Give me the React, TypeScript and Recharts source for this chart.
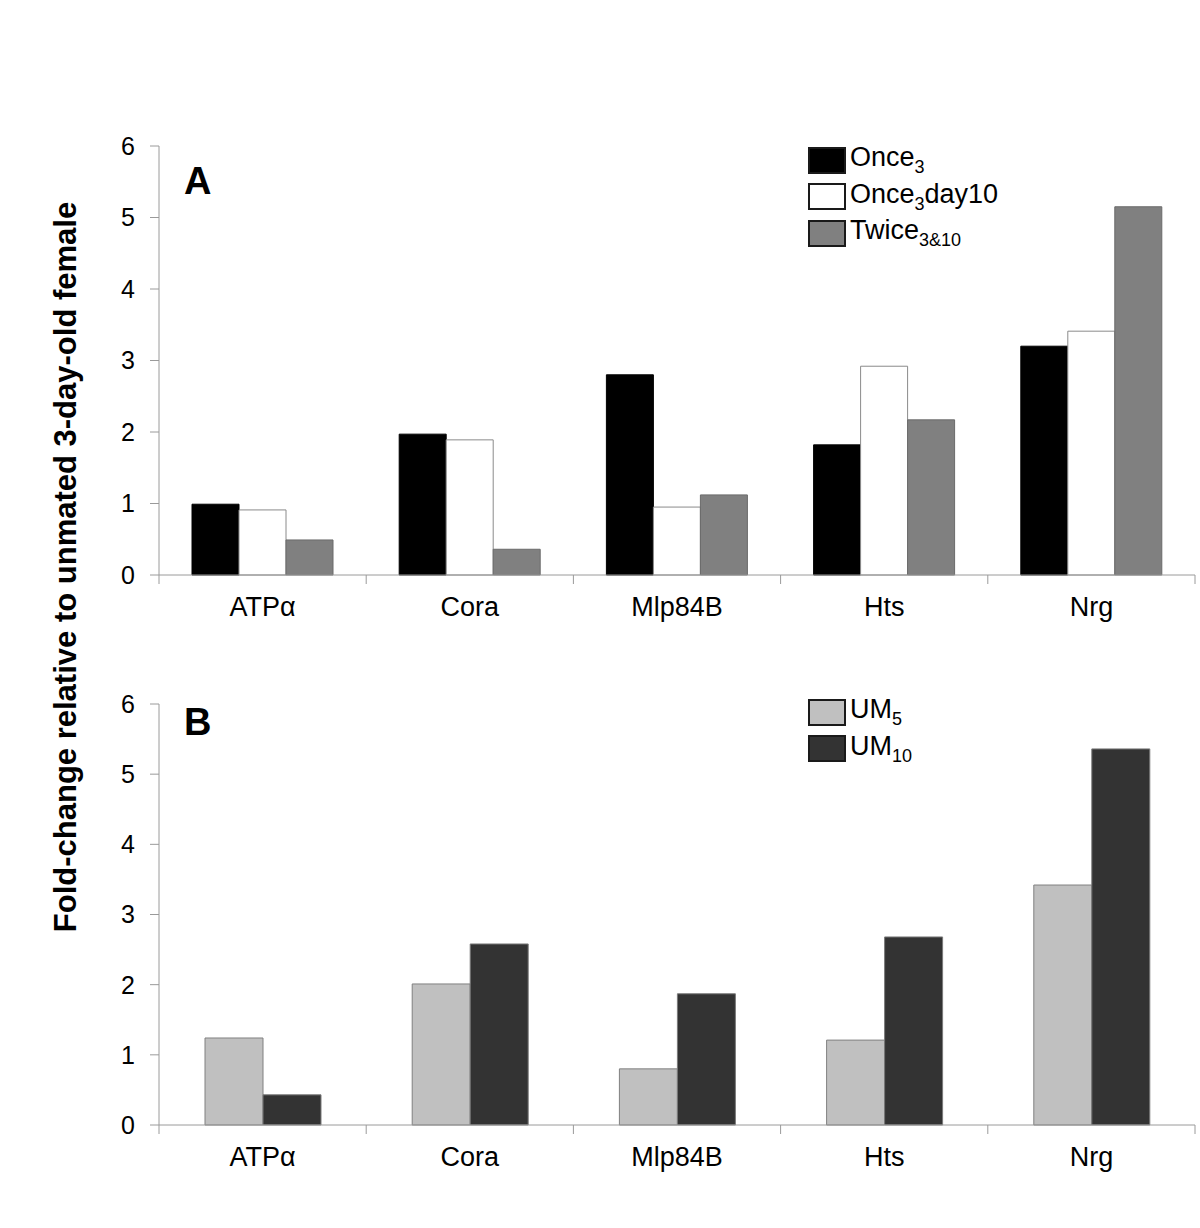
import { BarChart, Bar, XAxis, YAxis, Legend } from 'recharts'

// genes on the x axis, shared by both panels
const genes = ['ATPα', 'Cora', 'Mlp84B', 'Hts', 'Nrg']
const yTicks = [0, 1, 2, 3, 4, 5, 6]
const edgeTicks = [0, 1, 2, 3, 4, 5]

// panel A
const once3 = [0.99, 1.97, 2.8, 1.82, 3.2]
const once3day10 = [0.91, 1.89, 0.95, 2.92, 3.41]
const twice310 = [0.49, 0.36, 1.12, 2.17, 5.15]

// panel B
const um5 = [1.24, 2.01, 0.8, 1.21, 3.42]
const um10 = [0.43, 2.58, 1.87, 2.68, 5.36]

const namesA = [
  { key: 'once3', base: 'Once', sub: '3', tail: '' },
  { key: 'once3day10', base: 'Once', sub: '3', tail: 'day10' },
  { key: 'twice310', base: 'Twice', sub: '3&10', tail: '' },
]
const namesB = [
  { key: 'um5', base: 'UM', sub: '5', tail: '' },
  { key: 'um10', base: 'UM', sub: '10', tail: '' },
]

const dataA = genes.map((g, i) => ({ gene: g, once3: once3[i], once3day10: once3day10[i], twice310: twice310[i] }))
const dataB = genes.map((g, i) => ({ gene: g, um5: um5[i], um10: um10[i] }))

const FONT = '"Liberation Sans", Arial, sans-serif'
const AXIS = '#9a9a9a'

const styles: Record<string, { fill: string; stroke: string }> = {
  once3: { fill: '#000000', stroke: '#000000' },
  once3day10: { fill: '#ffffff', stroke: '#8a8a8a' },
  twice310: { fill: '#808080', stroke: '#6a6a6a' },
  um5: { fill: '#c0c0c0', stroke: '#808080' },
  um10: { fill: '#333333', stroke: '#7a7a7a' },
}

type NamePart = { key: string; base: string; sub: string; tail: string }

// position of each gene's centre on the numeric edge axis (0..5)
const genePos = (d: { gene: string }) => genes.indexOf(d.gene) + 0.5

function makeLegend(names: NamePart[]) {
  return () => (
    <div style={{ fontFamily: FONT, fontSize: 27, color: '#000' }}>
      {names.map((n) => (
        <div key={n.key} style={{ display: 'flex', alignItems: 'center', height: 36.5 }}>
          <div
            style={{
              width: 34,
              height: 23,
              background: styles[n.key].fill,
              border: '2px solid #1a1a1a',
              marginRight: 4,
            }}
          />
          <span style={{ whiteSpace: 'nowrap', lineHeight: 1 }}>
            {n.base}
            <sub style={{ fontSize: 18, verticalAlign: -7 }}>{n.sub}</sub>
            {n.tail}
          </span>
        </div>
      ))}
    </div>
  )
}

function Panel({
  data,
  keys,
  names,
  height,
  top,
  bottom,
  barSize,
  legendTop,
}: {
  data: any[]
  keys: string[]
  names: NamePart[]
  height: number
  top: number
  bottom: number
  barSize: number
  legendTop: number
}) {
  return (
    <BarChart
      width={1200}
      height={height}
      data={data}
      margin={{ top, right: 5, left: 0, bottom }}
      barGap={0}
      barSize={barSize}
    >
      {/* numeric axis only for the tick marks between the genes */}
      <XAxis
        xAxisId={0}
        type="number"
        scale="linear"
        dataKey={genePos}
        domain={[0, 5]}
        allowDataOverflow
        ticks={edgeTicks}
        interval={0}
        tickFormatter={() => ''}
        tickSize={9}
        height={1}
        axisLine={{ stroke: AXIS }}
        tickLine={{ stroke: AXIS }}
      />
      <XAxis
        xAxisId="cat"
        dataKey="gene"
        height={50}
        axisLine={false}
        tickLine={false}
        tickSize={0}
        tickMargin={21}
        tick={{ fill: '#000', fontSize: 27, fontFamily: FONT }}
      />
      <YAxis
        width={159}
        domain={[0, 6]}
        ticks={yTicks}
        interval={0}
        tickSize={9}
        tickMargin={15}
        axisLine={{ stroke: AXIS }}
        tickLine={{ stroke: AXIS }}
        tick={{ fill: '#000', fontSize: 25, fontFamily: FONT }}
      />
      <Legend
        layout="vertical"
        align="center"
        verticalAlign="middle"
        content={makeLegend(names)}
        wrapperStyle={{ position: 'absolute', left: 808, top: legendTop, width: 'auto' }}
      />
      {keys.map((k) => (
        <Bar
          key={k}
          xAxisId="cat"
          dataKey={k}
          fill={styles[k].fill}
          stroke={styles[k].stroke}
          strokeWidth={1}
          isAnimationActive={false}
        />
      ))}
    </BarChart>
  )
}

export default function App() {
  return (
    <div
      style={{
        position: 'absolute',
        left: 0,
        top: 0,
        width: 1200,
        height: 1228,
        background: '#fff',
        fontFamily: FONT,
        overflow: 'hidden',
      }}
    >
      <div style={{ position: 'absolute', left: 0, top: 0 }}>
        <Panel
          data={dataA}
          keys={namesA.map((n) => n.key)}
          names={namesA}
          height={640}
          top={146}
          bottom={14}
          barSize={47}
          legendTop={142}
        />
      </div>
      <div style={{ position: 'absolute', left: 0, top: 640 }}>
        <Panel
          data={dataB}
          keys={namesB.map((n) => n.key)}
          names={namesB}
          height={588}
          top={64}
          bottom={52}
          barSize={58}
          legendTop={54}
        />
      </div>
      <div style={{ position: 'absolute', left: 184, top: 162, fontSize: 38, fontWeight: 'bold', lineHeight: 1 }}>A</div>
      <div style={{ position: 'absolute', left: 184, top: 703, fontSize: 38, fontWeight: 'bold', lineHeight: 1 }}>B</div>
      <div
        style={{
          position: 'absolute',
          left: 65,
          top: 567,
          transform: 'translate(-50%, -50%) rotate(-90deg)',
          whiteSpace: 'nowrap',
          fontSize: 31,
          fontWeight: 'bold',
          lineHeight: 1,
        }}
      >
        Fold-change relative to unmated 3-day-old female
      </div>
    </div>
  )
}
